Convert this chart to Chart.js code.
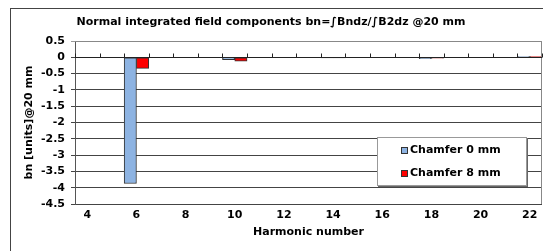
<!DOCTYPE html>
<html>
<head>
<meta charset="utf-8">
<script src="https://cdn.jsdelivr.net/npm/chart.js@4.4.1/dist/chart.umd.min.js"></script>
<style>
  html, body { margin: 0; padding: 0; background: #fff; }
  #wrap { width: 543px; height: 251px; }
</style>
</head>
<body>
<div id="wrap"><canvas id="c" width="543" height="251"></canvas></div>
<script>
// harmonic numbers on the category axis
var harmonics = [4, 5, 6, 7, 8, 9, 10, 11, 12, 13, 14, 15, 16, 17, 18, 19, 20, 21, 22];
// bn values in units @20 mm (only even harmonics are measured)
var chamfer0 = [null, null, -3.87, null, null, null, -0.07, null, null, null, -0.01, null, null, null, -0.04, null, null, null, 0.02];
var chamfer8 = [null, null, -0.34, null, null, null, -0.12, null, null, null, -0.01, null, null, null, -0.03, null, null, null, 0.02];
var seriesNames = ['Chamfer 0 mm', 'Chamfer 8 mm'];
var seriesColors = ['#8db3e2', '#ff0000'];

var FONT = 'DejaVu Sans';

// frame around the whole chart, plot border, zero-line ticks and the legend box
var decor = {
	id: 'decor',
	beforeDraw: function(chart) {
		var ctx = chart.ctx;
		ctx.save();
		ctx.strokeStyle = '#444';
		ctx.lineWidth = 1;
		ctx.strokeRect(10.5, 8.5, 700, 400);
		ctx.restore();
	},
	afterDatasetsDraw: function(chart) {
		var ctx = chart.ctx, a = chart.chartArea;
		var xs = chart.scales.x, ys = chart.scales.y;
		ctx.save();
		// plot border top / right
		ctx.strokeStyle = '#888';
		ctx.beginPath();
		ctx.moveTo(a.left, a.top + 0.5);
		ctx.lineTo(a.right - 0.5, a.top + 0.5);
		ctx.lineTo(a.right - 0.5, a.bottom);
		ctx.stroke();
		// category ticks on the zero line
		var y0 = Math.round(ys.getPixelForValue(0)) + 0.5;
		var half = (xs.getPixelForValue(1) - xs.getPixelForValue(0)) / 2;
		ctx.strokeStyle = '#222';
		ctx.beginPath();
		for (var i = 0; i <= harmonics.length; i++) {
			var x = Math.round(xs.getPixelForValue(i) - half) + 0.5;
			ctx.moveTo(x, y0);
			ctx.lineTo(x, y0 - 4);
		}
		ctx.moveTo(a.left, y0);
		ctx.lineTo(a.right, y0);
		ctx.stroke();

		// legend
		var lx = 377, ly = 137, lw = 150, lh = 49;
		ctx.fillStyle = '#666';
		ctx.fillRect(lx + 1, ly + 1, lw, lh);
		ctx.fillStyle = '#fff';
		ctx.fillRect(lx, ly, lw, lh);
		ctx.strokeStyle = '#999';
		ctx.strokeRect(lx + 0.5, ly + 0.5, lw - 1, lh - 1);
		ctx.font = 'bold 11px ' + FONT;
		ctx.textBaseline = 'middle';
		chart.data.datasets.forEach(function(ds, k) {
			var cy = 150 + k * 23;
			ctx.fillStyle = ds.backgroundColor;
			ctx.fillRect(401, cy - 3, 7, 7);
			ctx.strokeStyle = '#333';
			ctx.strokeRect(401.5, cy - 2.5, 6, 6);
			ctx.fillStyle = '#000';
			ctx.fillText(ds.label, 410, cy + 0.5);
		});
		ctx.restore();
	}
};

var ctx = document.getElementById('c').getContext('2d');
var myChart = new Chart(ctx, {
	type: 'bar',
	data: {
		labels: harmonics,
		datasets: [{
			label: seriesNames[0],
			data: chamfer0,
			backgroundColor: seriesColors[0],
			borderColor: '#333',
			borderWidth: 1,
			borderSkipped: false
		}, {
			label: seriesNames[1],
			data: chamfer8,
			backgroundColor: seriesColors[1],
			borderColor: '#333',
			borderWidth: 1,
			borderSkipped: false
		}]
	},
	options: {
		responsive: false,
		animation: false,
		layout: { padding: { left: 0, right: 1, top: 0, bottom: 0 } },
		datasets: { bar: { categoryPercentage: 1.0, barPercentage: 1.0 } },
		plugins: {
			legend: { display: false },
			tooltip: { enabled: false },
			title: {
				display: true,
				text: 'Normal integrated field components bn=\u222BBndz/\u222BB2dz @20 mm',
				color: '#000',
				font: { family: FONT, size: 11, weight: 'bold' },
				padding: { top: 16, bottom: 11.8 }
			}
		},
		scales: {
			x: {
				grid: { display: false, drawTicks: false },
				border: { display: false },
				ticks: {
					autoSkip: false,
					maxRotation: 0,
					padding: 5,
					color: '#000',
					font: { family: FONT, size: 11, weight: 'bold' },
					callback: function(v, i) { return i % 2 === 0 ? harmonics[i] : ''; }
				},
				title: {
					display: true,
					text: 'Harmonic number',
					color: '#000',
					font: { family: FONT, size: 11, weight: 'bold' },
					padding: { top: 0, bottom: 12.4 }
				},
				afterFit: function(s) { s.height = 47; }
			},
			y: {
				min: -4.5,
				max: 0.5,
				grid: {
					color: function(c) { return c.tick && c.tick.value === 0.5 ? '#999' : '#444'; },
					tickLength: 4
				},
				border: { display: true, color: '#555' },
				ticks: {
					stepSize: 0.5,
					padding: 6,
					color: '#000',
					font: { family: FONT, size: 11, weight: 'bold' },
					callback: function(v) { return String(Number(v.toFixed(1))); }
				},
				title: {
					display: true,
					text: 'bn [units]@20 mm',
					color: '#000',
					font: { family: FONT, size: 11, weight: 'bold' },
					padding: { top: 22.4, bottom: 0 }
				},
				afterFit: function(s) { s.width = 75; }
			}
		}
	},
	plugins: [decor]
});
</script>
</body>
</html>
